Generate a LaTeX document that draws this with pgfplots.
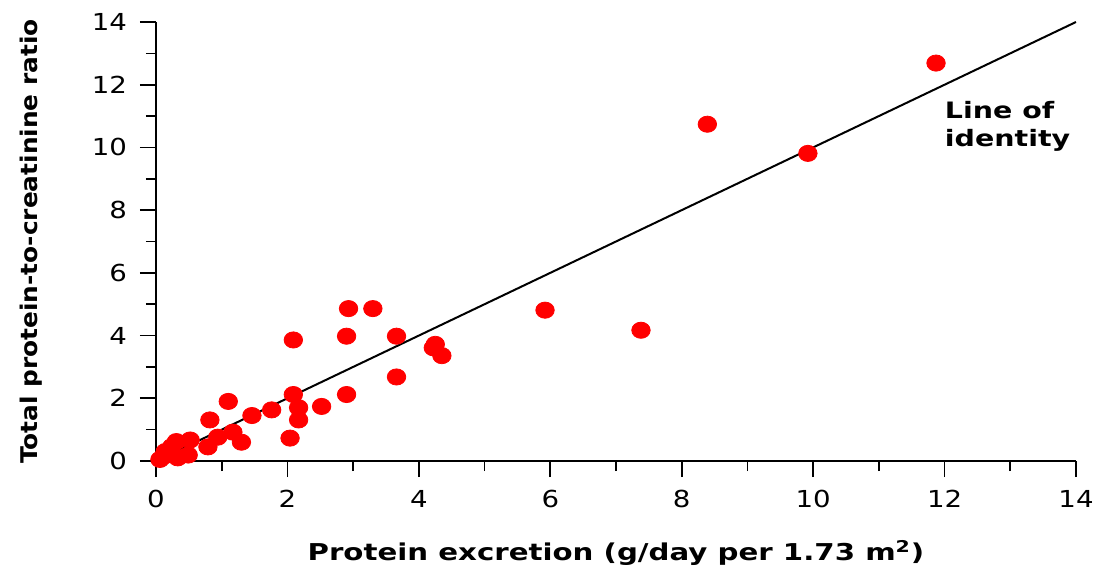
\documentclass[border=0pt]{standalone}
\usepackage{fontspec}
\setmainfont{DejaVu Sans}
\newfontfamily\tickfont{DejaVu Sans}[FakeStretch=1.18]
\newfontfamily\xlabfont{DejaVu Sans}[FakeStretch=1.26]
\newfontfamily\ylabfont{DejaVu Sans}[FakeStretch=1.08]
\usepackage{pgfplots}
\pgfplotsset{compat=1.18}

\begin{document}
\begin{tikzpicture}
\useasboundingbox (-78pt,-56pt) rectangle (470.5pt,230.5pt);
\begin{axis}[
    at={(0,0)}, anchor=south west,
    scale only axis,
    width=460pt, height=219.5pt,
    xmin=0, xmax=14, ymin=0, ymax=14,
    axis lines=left,
    axis line style={-, line width=1pt},
    hide obscured x ticks=false,
    hide obscured y ticks=false,
    tick align=outside,
    tick style={black, line width=0.8pt},
    major tick length=8pt,
    minor tick length=5pt,
    xtick={0,2,...,14}, ytick={0,2,...,14},
    minor xtick={1,3,...,13}, minor ytick={1,3,...,13},
    tick label style={font=\tickfont\fontsize{11.7}{14}\selectfont},
    /pgf/number format/assume math mode=true,
    xticklabel style={yshift=-3pt},
    yticklabel style={xshift=-3pt},
    xlabel={Protein excretion (g/day per 1.73 m\textsuperscript{2})},
    ylabel={Total protein-to-creatinine ratio},
    xlabel style={font=\xlabfont\bfseries\fontsize{11.6}{13}\selectfont,
        at={(0.5,0)}, anchor=center, yshift=-46pt},
    ylabel style={font=\ylabfont\bfseries\fontsize{11.5}{13}\selectfont,
        at={(0,0.5)}, anchor=center, yshift=62.5pt},
    clip=false,
]
% line of identity
\addplot[black, line width=1pt] coordinates {(0,0) (14,14)};
% measurements
\addplot[only marks, mark=*, mark size=4.4pt, color=red,
    mark options={draw=red, fill=red, xscale=1.05, yscale=0.92}] coordinates {
    (0.06,0.05) (0.11,0.14) (0.14,0.30) (0.24,0.46) (0.31,0.62) (0.33,0.10)
    (0.49,0.19) (0.52,0.67) (0.79,0.45) (0.82,1.31) (0.94,0.76) (1.10,1.90)
    (1.17,0.92) (1.30,0.60) (1.46,1.45) (1.76,1.63) (2.04,0.73) (2.09,2.12)
    (2.17,1.70) (2.17,1.31) (2.09,3.86) (2.52,1.74) (2.90,2.12) (2.90,3.98)
    (2.93,4.86) (3.30,4.86) (3.66,3.98) (3.66,2.68) (4.22,3.61) (4.25,3.72)
    (4.35,3.36) (5.92,4.81) (7.38,4.17) (8.39,10.74) (9.92,9.81) (11.87,12.69)
};
\node[anchor=north west, align=left, font=\xlabfont\bfseries\fontsize{11.3}{14}\selectfont, inner sep=0pt]
    at (axis cs:12.0,11.47) {Line of\\identity};
\end{axis}
\end{tikzpicture}
\end{document}
